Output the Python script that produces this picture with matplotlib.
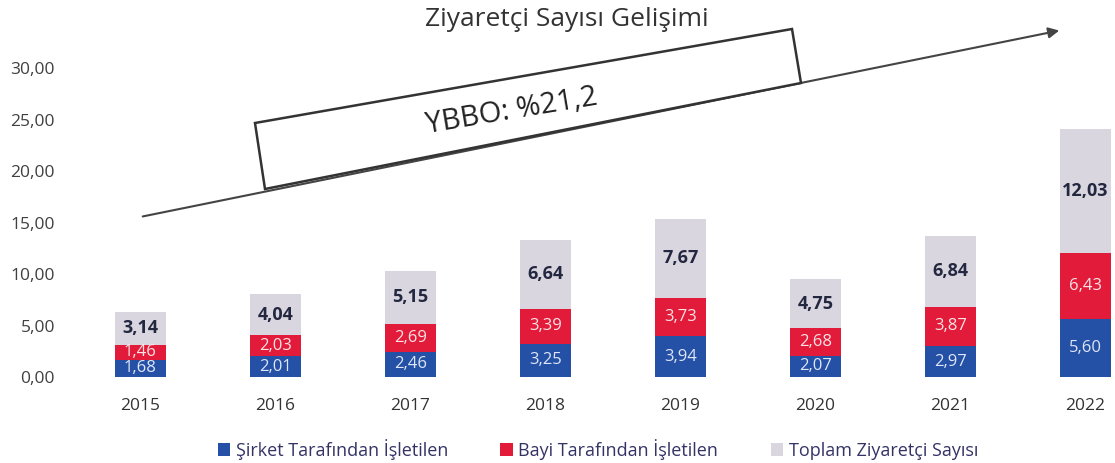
import matplotlib
matplotlib.use("Agg")
import matplotlib.pyplot as plt
from matplotlib.patches import Polygon
import numpy as np

years   = ["2015", "2016", "2017", "2018", "2019", "2020", "2021", "2022"]
sirket  = [1.68, 2.01, 2.46, 3.25, 3.94, 2.07, 2.97, 5.60]
bayi    = [1.46, 2.03, 2.69, 3.39, 3.73, 2.68, 3.87, 6.43]
toplam  = [3.14, 4.04, 5.15, 6.64, 7.67, 4.75, 6.84, 12.03]
yticks  = [0, 5, 10, 15, 20, 25, 30]
ylabels = ["0,00", "5,00", "10,00", "15,00", "20,00", "25,00", "30,00"]
names   = ["Şirket Tarafından İşletilen", "Bayi Tarafından İşletilen", "Toplam Ziyaretçi Sayısı"]
cagr    = "YBBO: %21,2"
title   = "Ziyaretçi Sayısı Gelişimi"

BLUE, RED, GREY = "#2450a6", "#e31b3a", "#d9d6e0"
FONT = ["Open Sans", "DejaVu Sans"]
plt.rcParams["font.family"] = FONT

W, H = 1115, 463
fig = plt.figure(figsize=(W / 100, H / 100), dpi=100)
# axes: left edge 66px, right 1115px, y=0 at 377px, 30 at 68px
y0, ppu = 377, 10.3
ax = fig.add_axes([66 / W, (H - y0) / H, 1 - 66 / W, 35 * ppu / H])
x = np.arange(len(years))
bw = 0.38
b1 = ax.bar(x, sirket, bw, color=BLUE, label=names[0])
b2 = ax.bar(x, bayi, bw, bottom=sirket, color=RED, label=names[1])
bot3 = np.array(sirket) + np.array(bayi)
b3 = ax.bar(x, toplam, bw, bottom=bot3, color=GREY, label=names[2])

fmt = lambda vals: [f"{v:.2f}".replace(".", ",") for v in vals]
ax.bar_label(b1, labels=fmt(sirket), label_type="center", color="#dfe6f5", fontsize=12)
ax.bar_label(b2, labels=fmt(bayi), label_type="center", color="#fbe3e6", fontsize=12)
ax.bar_label(b3, labels=fmt(toplam), label_type="center", color="#23273f",
             fontsize=13, fontweight="bold")

ax.set_xlim(-0.55, 7.22)
ax.set_ylim(0, 35)
ax.set_yticks(yticks)
ax.set_yticklabels(ylabels, fontsize=12.5, color="#404040")
ax.set_xticks(x)
ax.set_xticklabels(years, fontsize=12.5, color="#333333")
ax.tick_params(length=0)
ax.tick_params(axis="x", pad=15)
ax.tick_params(axis="y", pad=8)
for s in ax.spines.values():
    s.set_visible(False)

ax.legend(loc="lower center", bbox_to_anchor=(0.507, -0.275), ncol=3,
          frameon=False, fontsize=13, handlelength=0.7, handleheight=0.7,
          handletextpad=0.3, columnspacing=2.9, labelcolor="#333366")

# overlay in pixel coordinates for title, arrow and box
ov = fig.add_axes([0, 0, 1, 1], facecolor="none")
ov.set_xlim(0, W)
ov.set_ylim(H, 0)
ov.axis("off")
ov.text(567, 19, title, ha="center", va="center", fontsize=19, color="#333333")
ov.annotate("", xy=(1062, 30), xytext=(140, 217),
            arrowprops=dict(arrowstyle="-|>", color="#444444", lw=1.5, mutation_scale=16))
box = Polygon([(255, 123), (792, 29), (801, 83), (265, 189)], closed=True,
              facecolor="white", edgecolor="#333333", lw=1.8, zorder=3)
ov.add_patch(box)
ov.text(512, 111, cagr, ha="center", va="center", rotation=9.5, fontsize=21,
        color="#222222", zorder=4)

fig.savefig("out.png", dpi=100)
